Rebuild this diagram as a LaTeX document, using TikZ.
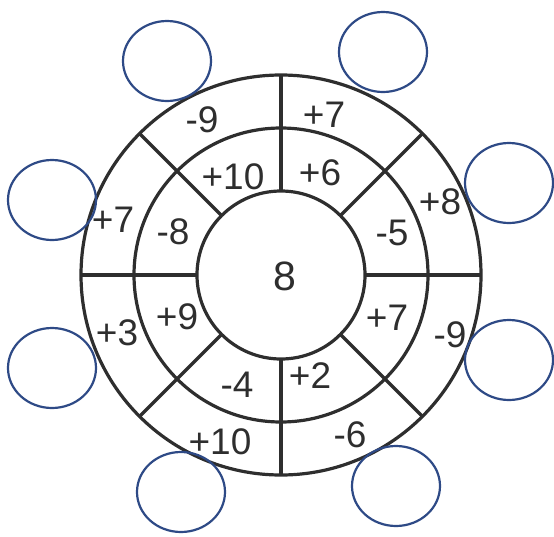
\documentclass[tikz,border=0pt]{standalone}
\usepackage{fontspec}
\setmainfont{Liberation Sans}
\usetikzlibrary{shapes.geometric}
\definecolor{ringblue}{HTML}{2E4A86}
\definecolor{ink}{HTML}{2E2E2E}
\begin{document}
\begin{tikzpicture}[x=1pt,y=-1pt,
  ring/.style={draw=ink, line width=3.2pt},
  num/.style={font=\fontsize{37}{37}\selectfont, text=ink, inner sep=0pt},
  blank/.style={draw=ringblue, line width=2.2pt, ellipse, minimum width=88pt, minimum height=80pt, inner sep=0pt}]
\useasboundingbox (0,0) rectangle (554,536);
\coordinate (c) at (281,275);
% rings
\draw[ring] (c) circle[radius=200pt];
\draw[ring] (c) circle[radius=147pt];
\draw[ring] (c) circle[radius=84pt];
% spokes
\foreach \a in {0,45,...,315}{
  \draw[ring] (c) ++(\a:84pt) -- ++(\a:116pt);
}
% centre number
\node[num, font=\fontsize{41}{41}\selectfont] (mid) at (285,276) {8};
% outer ring numbers
\node[num] (o1) at (202,120) {-9};
\node[num] (o2) at (324,115) {+7};
\node[num] (o3) at (440,202) {+8};
\node[num] (o4) at (450,335) {-9};
\node[num] (o5) at (350,435) {-6};
\node[num] (o6) at (220,442) {+10};
\node[num] (o7) at (117,333) {+3};
\node[num] (o8) at (113,220) {+7};
% inner ring numbers
\node[num] (i1) at (233,177) {+10};
\node[num] (i2) at (320,173) {+6};
\node[num] (i3) at (392,233) {-5};
\node[num] (i4) at (387,318) {+7};
\node[num] (i5) at (310,376) {+2};
\node[num] (i6) at (237,385) {-4};
\node[num] (i7) at (177,317) {+9};
\node[num] (i8) at (173,232) {-8};
% answer ellipses
\node[blank] (e1) at (167,61) {};
\node[blank] (e2) at (383,52) {};
\node[blank] (e3) at (509,183) {};
\node[blank] (e4) at (509,360) {};
\node[blank] (e5) at (396,486) {};
\node[blank] (e6) at (181,492) {};
\node[blank] (e7) at (52,368) {};
\node[blank] (e8) at (52,200) {};
\end{tikzpicture}
\end{document}
